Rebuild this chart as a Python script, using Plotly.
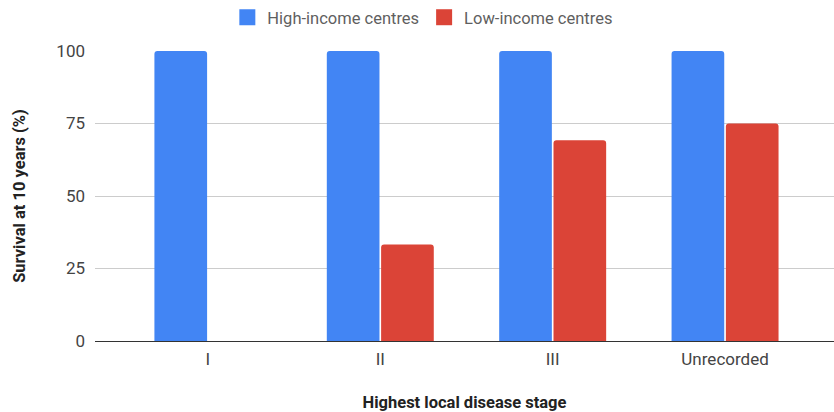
import plotly.graph_objects as go

# Survival at 10 years by highest local disease stage
stages = ["I", "II", "III", "Unrecorded"]
high_income = [100, 100, 100, 100]
low_income = [None, 33.3, 69.2, 75]
y_ticks = [0, 25, 50, 75, 100]
series_names = ["High-income centres", "Low-income centres"]

BLUE = "#4285F4"
RED = "#DB4437"
FONT = "Roboto, Arial, sans-serif"

fig = go.Figure()
for name, values, color in zip(series_names, [high_income, low_income], [BLUE, RED]):
    fig.add_trace(go.Bar(x=stages, y=values, name=name, legendgroup=name,
                         showlegend=False,
                         marker=dict(color=color, line=dict(width=0))))
    # legend entry with a larger square swatch
    fig.add_trace(go.Scatter(x=[None], y=[None], mode="markers", name=name,
                             legendgroup=name,
                             marker=dict(symbol="square", size=16, color=color)))

fig.update_layout(
    width=834, height=412,
    margin=dict(l=95, r=0, t=51, b=71, autoexpand=False),
    paper_bgcolor="white", plot_bgcolor="white",
    font=dict(family=FONT, color="#444444", size=16),
    barmode="group", bargap=0.37, bargroupgap=0.03, barcornerradius=3,
    showlegend=True,
    legend=dict(orientation="h", xref="container", yref="container",
                x=0.507, xanchor="center", y=1.0, yanchor="top",
                font=dict(size=16.5, color="#5f5f5f", family=FONT),
                itemwidth=30, traceorder="normal"),
)

fig.update_xaxes(
    type="category", range=[-0.655, 3.632],
    showgrid=False, showline=True, linecolor="#333333", linewidth=1,
    ticks="", ticklabelstandoff=3,
    tickfont=dict(size=17, color="#444444"),
    title=dict(text="<b>Highest local disease stage</b>",
               font=dict(size=16.5, color="#222222"), standoff=28),
)
fig.update_yaxes(
    range=[0, 100], tickvals=y_ticks,
    showgrid=True, gridcolor="#cccccc", gridwidth=1,
    zeroline=False, showline=False, ticks="",
    ticklabelstandoff=9,
    tickfont=dict(size=17, color="#444444"),
    title=dict(text="<b>Survival at 10 years (%)</b>",
               font=dict(size=16.5, color="#222222"), standoff=26),
)

fig.write_html("out.html")
